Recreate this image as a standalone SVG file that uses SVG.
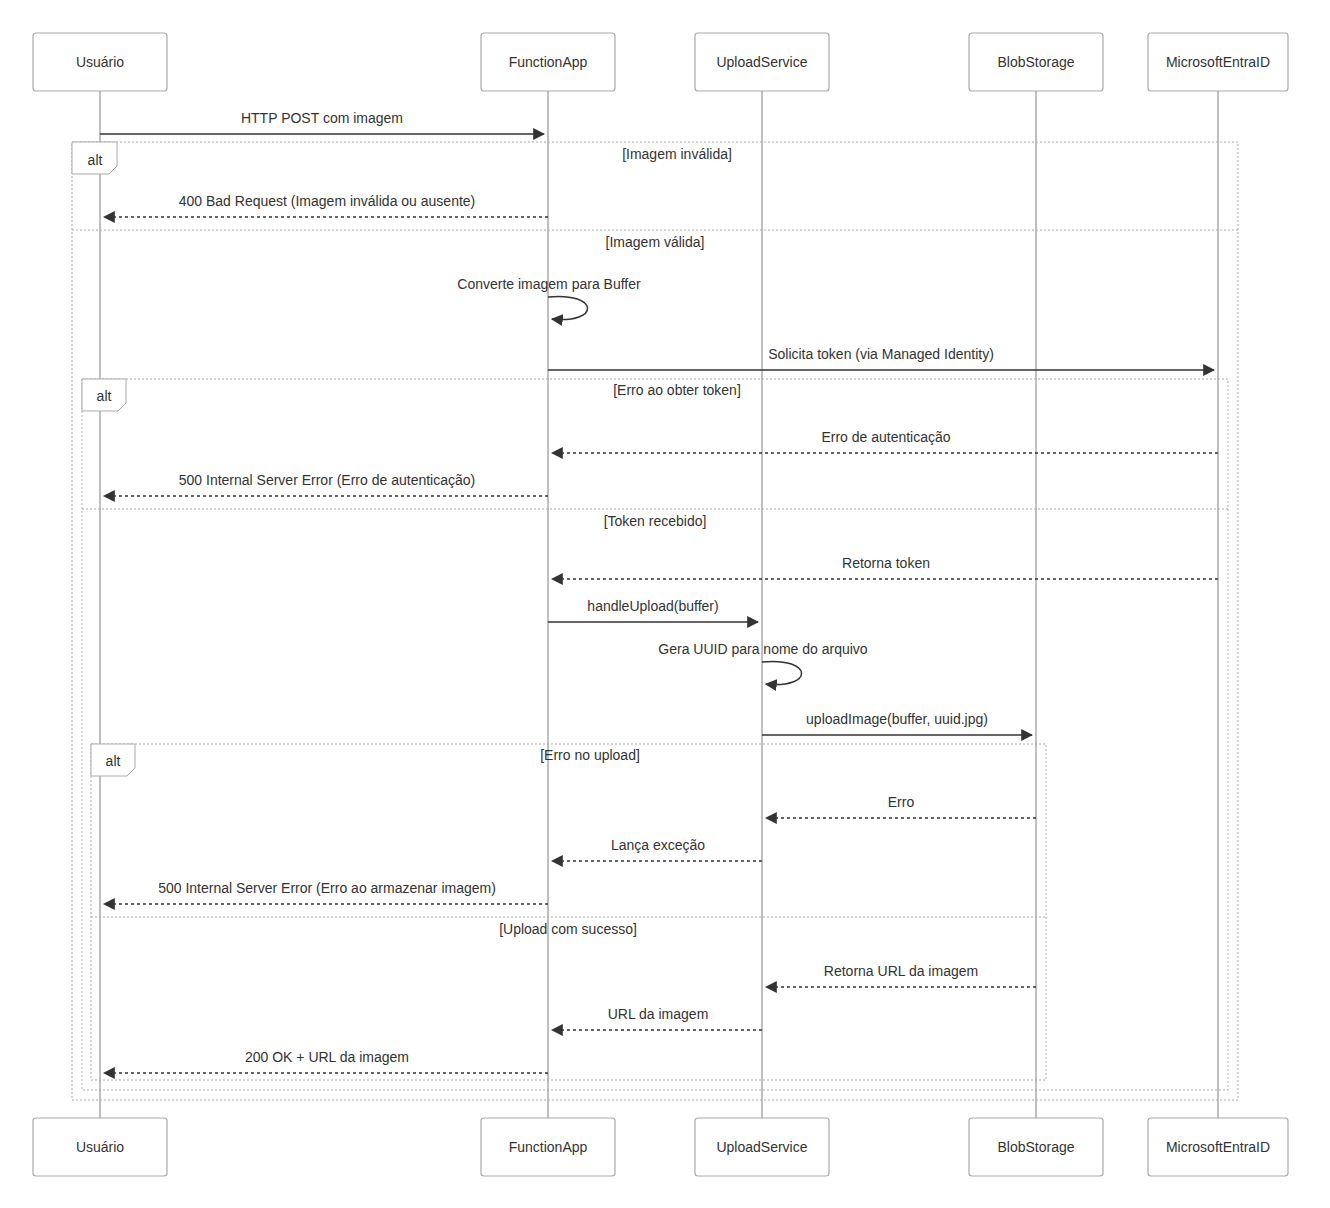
<svg xmlns="http://www.w3.org/2000/svg" width="1330" height="1208" viewBox="0 0 1330 1208">
<style>
text{font-family:"Liberation Sans",Arial,sans-serif;font-size:14px;fill:#333;text-anchor:middle}
.actor{fill:#fff;stroke:#aaa;stroke-width:1.2}
.life{stroke:#aaa;stroke-width:1.5}
.msg{stroke:#333;stroke-width:1.5;fill:none;marker-end:url(#ah)}
.dash{stroke-dasharray:3,3}
.frame{fill:none;stroke:#aaa;stroke-width:1;stroke-dasharray:2,2}
.lbl{fill:#fff;stroke:#aaa;stroke-width:1}
</style>
<defs><marker id="ah" viewBox="0 0 10 10" refX="9" refY="5" markerWidth="8" markerHeight="8" orient="auto"><path d="M0,0L10,5L0,10z" fill="#333"/></marker></defs>
<rect width="1330" height="1208" fill="#fff"/>
<g id="lifelines">
<line class="life" x1="100" y1="91" x2="100" y2="1118"/>
<line class="life" x1="548" y1="91" x2="548" y2="1118"/>
<line class="life" x1="762" y1="91" x2="762" y2="1118"/>
<line class="life" x1="1036" y1="91" x2="1036" y2="1118"/>
<line class="life" x1="1218" y1="91" x2="1218" y2="1118"/>
</g>
<g id="frames">
<rect class="frame" x="72" y="142" width="1166" height="958"/>
<path class="lbl" d="M72,142H117V166L109,174H72Z"/><text x="95" y="165">alt</text>
<text x="677" y="159">[Imagem inválida]</text>
<line class="frame" x1="72" y1="230" x2="1238" y2="230"/>
<text x="655" y="247">[Imagem válida]</text>
<rect class="frame" x="82" y="379" width="1146" height="711"/>
<path class="lbl" d="M82,379H126V403L118,411H82Z"/><text x="104" y="401">alt</text>
<text x="677" y="395">[Erro ao obter token]</text>
<line class="frame" x1="82" y1="509" x2="1228" y2="509"/>
<text x="655" y="526">[Token recebido]</text>
<rect class="frame" x="91" y="744" width="955" height="336"/>
<path class="lbl" d="M91,744H135V768L127,776H91Z"/><text x="113" y="766">alt</text>
<text x="590" y="760">[Erro no upload]</text>
<line class="frame" x1="91" y1="917" x2="1046" y2="917"/>
<text x="568" y="934">[Upload com sucesso]</text>
</g>
<g id="connectors">
<line class="msg" x1="100" y1="134" x2="544" y2="134"/><text x="322" y="123">HTTP POST com imagem</text>
<line class="msg dash" x1="548" y1="217" x2="104" y2="217"/><text x="327" y="206">400 Bad Request (Imagem inválida ou ausente)</text>
<path class="msg" d="M548,297C600,292 600,324 552,319"/><text x="549" y="289">Converte imagem para Buffer</text>
<line class="msg" x1="548" y1="370" x2="1214" y2="370"/><text x="881" y="359">Solicita token (via Managed Identity)</text>
<line class="msg dash" x1="1218" y1="453" x2="552" y2="453"/><text x="886" y="442">Erro de autenticação</text>
<line class="msg dash" x1="548" y1="496" x2="104" y2="496"/><text x="327" y="485">500 Internal Server Error (Erro de autenticação)</text>
<line class="msg dash" x1="1218" y1="579" x2="552" y2="579"/><text x="886" y="568">Retorna token</text>
<line class="msg" x1="548" y1="622" x2="758" y2="622"/><text x="653" y="611">handleUpload(buffer)</text>
<path class="msg" d="M762,662C814,657 814,689 766,684"/><text x="763" y="654">Gera UUID para nome do arquivo</text>
<line class="msg" x1="762" y1="735" x2="1032" y2="735"/><text x="897" y="724">uploadImage(buffer, uuid.jpg)</text>
<line class="msg dash" x1="1036" y1="818" x2="766" y2="818"/><text x="901" y="807">Erro</text>
<line class="msg dash" x1="762" y1="861" x2="552" y2="861"/><text x="658" y="850">Lança exceção</text>
<line class="msg dash" x1="548" y1="904" x2="104" y2="904"/><text x="327" y="893">500 Internal Server Error (Erro ao armazenar imagem)</text>
<line class="msg dash" x1="1036" y1="987" x2="766" y2="987"/><text x="901" y="976">Retorna URL da imagem</text>
<line class="msg dash" x1="762" y1="1030" x2="552" y2="1030"/><text x="658" y="1019">URL da imagem</text>
<line class="msg dash" x1="548" y1="1073" x2="104" y2="1073"/><text x="327" y="1062">200 OK + URL da imagem</text>
</g>
<g id="usuario"><rect class="actor" x="33" y="33" width="134" height="58" rx="3"/><text x="100" y="67">Usuário</text><rect class="actor" x="33" y="1118" width="134" height="58" rx="3"/><text x="100" y="1152">Usuário</text></g>
<g id="functionapp"><rect class="actor" x="481" y="33" width="134" height="58" rx="3"/><text x="548" y="67">FunctionApp</text><rect class="actor" x="481" y="1118" width="134" height="58" rx="3"/><text x="548" y="1152">FunctionApp</text></g>
<g id="uploadservice"><rect class="actor" x="695" y="33" width="134" height="58" rx="3"/><text x="762" y="67">UploadService</text><rect class="actor" x="695" y="1118" width="134" height="58" rx="3"/><text x="762" y="1152">UploadService</text></g>
<g id="blobstorage"><rect class="actor" x="969" y="33" width="134" height="58" rx="3"/><text x="1036" y="67">BlobStorage</text><rect class="actor" x="969" y="1118" width="134" height="58" rx="3"/><text x="1036" y="1152">BlobStorage</text></g>
<g id="entraid"><rect class="actor" x="1148" y="33" width="140" height="58" rx="3"/><text x="1218" y="67">MicrosoftEntraID</text><rect class="actor" x="1148" y="1118" width="140" height="58" rx="3"/><text x="1218" y="1152">MicrosoftEntraID</text></g>
</svg>
